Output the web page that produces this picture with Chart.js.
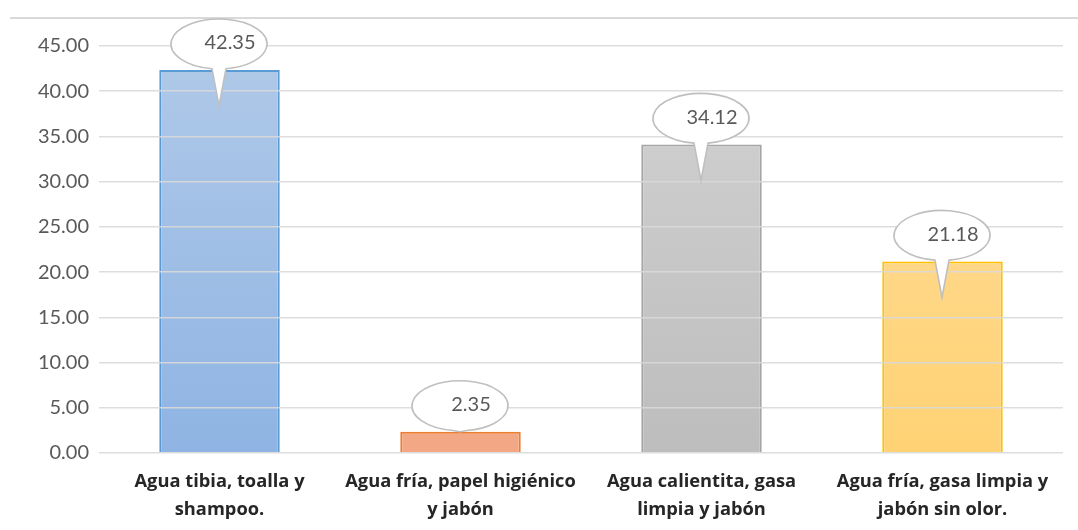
<!DOCTYPE html>
<html>
<head>
<meta charset="utf-8">
<script src="https://cdn.jsdelivr.net/npm/chart.js@4"></script>
<style>
  html, body { margin: 0; padding: 0; background: #ffffff; }
  #wrap { width: 1078px; height: 530px; position: relative; }
</style>
</head>
<body>
<div id="wrap"><canvas id="c"></canvas></div>
<script>
// Categories (two-line axis labels) and their values
const categories = [
  ["Agua tibia, toalla y", "shampoo."],
  ["Agua fría, papel higiénico", "y jabón"],
  ["Agua calientita, gasa", "limpia y jabón"],
  ["Agua fría, gasa limpia y", "jabón sin olor."]
];
const values = [42.35, 2.35, 34.12, 21.18];

// Value axis range
const yMin = 0;
const yMax = 45;
const yStep = 5;

// Per-bar colours: gradient top, gradient bottom, outline
const barTop = ["#b0c9e8", "#f5bca3", "#d2d2d2", "#ffdd9c"];
const barBottom = ["#8fb4e3", "#f3a784", "#bdbdbd", "#ffd274"];
const barBorder = ["#5b9bd5", "#ed7d31", "#a5a5a5", "#ffc000"];

const FONT = "Lato, 'Open Sans', sans-serif";
const LABEL_FONT = "'Open Sans', Lato, sans-serif";

function gradientFor(ctx) {
  const chart = ctx.chart;
  const area = chart.chartArea;
  if (!area) return barBottom[ctx.dataIndex];
  const el = chart.getDatasetMeta(0).data[ctx.dataIndex];
  const top = el && isFinite(el.y) ? el.y : area.top;
  const g = chart.ctx.createLinearGradient(0, top, 0, area.bottom);
  g.addColorStop(0, barTop[ctx.dataIndex]);
  g.addColorStop(1, barBottom[ctx.dataIndex]);
  return g;
}

// Thin rule across the top of the chart frame
const frameRule = {
  id: "frameRule",
  beforeDraw(chart) {
    const c = chart.ctx;
    c.save();
    c.strokeStyle = "#d9d9d9";
    c.lineWidth = 2;
    c.beginPath();
    c.moveTo(10, 18);
    c.lineTo(chart.width, 18);
    c.stroke();
    c.restore();
  }
};

// Speech-bubble value callouts above each bar
const callouts = {
  id: "callouts",
  afterDraw(chart) {
    const c = chart.ctx;
    const meta = chart.getDatasetMeta(0);
    const data = chart.data.datasets[0].data;
    meta.data.forEach((el, i) => {
      const top = el.y;
      const cx = el.x - 0.5;
      const cy = top - 26;
      const rx = 48, ry = 25;
      const half = 7;
      const tipY = top + Math.min(36, Math.max(0, el.base - top - 25));
      const a = Math.acos(half / rx);
      c.save();
      c.beginPath();
      c.ellipse(cx, cy, rx, ry, 0, Math.PI - a, a + 2 * Math.PI, false);
      c.lineTo(cx, Math.max(tipY, cy + ry * Math.sin(a) + 1));
      c.closePath();
      c.fillStyle = "#ffffff";
      c.fill();
      c.strokeStyle = "#bfbfbf";
      c.lineWidth = 1.6;
      c.stroke();
      c.fillStyle = "#595959";
      c.font = "20px " + FONT;
      c.textAlign = "center";
      c.textBaseline = "middle";
      c.fillText(Number(data[i]).toFixed(2), cx + 11, cy - 1);
      c.restore();
    });
  }
};

new Chart(document.getElementById("c"), {
  type: "bar",
  data: {
    labels: categories,
    datasets: [{
      data: values,
      backgroundColor: gradientFor,
      borderColor: barBorder,
      borderWidth: 2,
      barPercentage: 0.5,
      categoryPercentage: 1.0
    }]
  },
  options: {
    responsive: true,
    maintainAspectRatio: false,
    animation: false,
    layout: { padding: { top: 46, right: 15, left: 0, bottom: 0 } },
    plugins: {
      legend: { display: false },
      tooltip: { enabled: false }
    },
    scales: {
      x: {
        grid: { display: false },
        border: { display: false },
        ticks: {
          color: "#262626",
          font: { family: LABEL_FONT, size: 18.3, weight: "bold", lineHeight: 1.53 },
          padding: 7,
          maxRotation: 0,
          autoSkip: false
        },
        afterFit(scale) { scale.height = 77; }
      },
      y: {
        min: yMin,
        max: yMax,
        grid: { color: "rgba(217,217,217,0.9)", lineWidth: 1.5, drawTicks: false, z: 1 },
        border: { display: false },
        ticks: {
          stepSize: yStep,
          color: "#595959",
          font: { family: FONT, size: 20 },
          padding: 10,
          callback: (v) => Number(v).toFixed(2)
        },
        afterFit(scale) { scale.width = 99; }
      }
    }
  },
  plugins: [frameRule, callouts]
});
</script>
</body>
</html>
